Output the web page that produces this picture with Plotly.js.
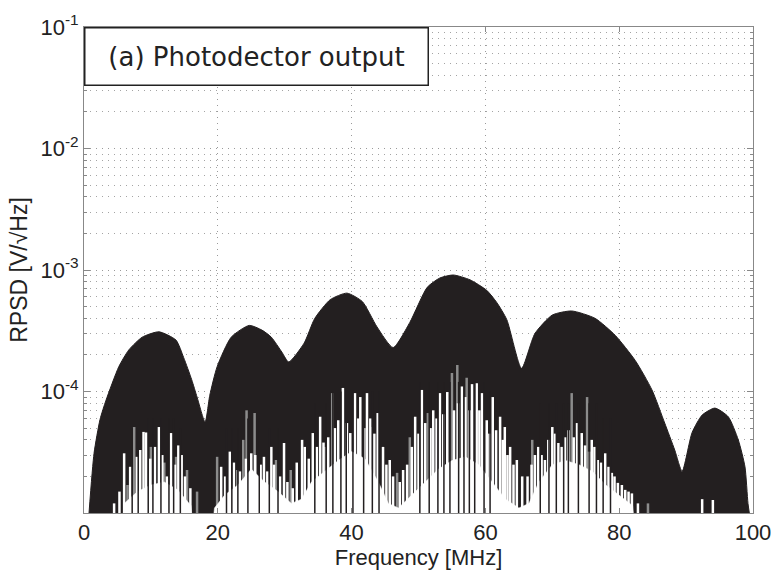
<!DOCTYPE html>
<html>
<head>
<meta charset="utf-8">
<script src="https://cdn.plot.ly/plotly-3.0.1.min.js"></script>
<style>html,body{margin:0;padding:0;background:#fff;}#chart{width:774px;height:570px;}</style>
</head>
<body>
<div id="chart"></div>
<script>
// Upper envelope of the spectrum (frequency in MHz, RPSD in V/sqrt(Hz))
const envF = [0.75, 1.5, 2.4, 3.3, 5.2, 6.7, 8.7, 11.2, 13.75, 14.9, 16.1, 16.9, 18.1, 18.8, 19.9, 22.0, 24.7, 26.6, 28.0, 29.6, 30.6, 32.9, 34.5, 36.8, 39.3, 41.6, 43.8, 46.2, 48.7, 51.3, 53.2, 55.2, 57.7, 60.2, 61.7, 63.2, 65.4, 67.4, 70.0, 72.9, 76.4, 79.4, 82.4, 84.9, 86.8, 88.3, 89.4, 90.9, 92.4, 94.3, 96.3, 97.8, 98.8, 99.25, 99.45];
const envV = [1.0e-5, 3.1e-5, 5.9e-5, 8.5e-5, 1.6e-4, 2.2e-4, 2.8e-4, 3.1e-4, 2.65e-4, 1.9e-4, 1.25e-4, 9.0e-5, 5.6e-5, 9.3e-5, 1.6e-4, 2.8e-4, 3.5e-4, 3.2e-4, 2.8e-4, 2.1e-4, 1.75e-4, 2.5e-4, 4.0e-4, 5.7e-4, 6.45e-4, 5.5e-4, 3.4e-4, 2.3e-4, 3.7e-4, 7.2e-4, 8.6e-4, 9.1e-4, 8.3e-4, 6.8e-4, 5.4e-4, 3.9e-4, 1.55e-4, 3.0e-4, 4.26e-4, 4.6e-4, 4.0e-4, 2.9e-4, 1.8e-4, 1.03e-4, 5.5e-5, 3.3e-5, 2.2e-5, 4.6e-5, 6.4e-5, 7.3e-5, 6.2e-5, 4.0e-5, 2.4e-5, 1.2e-5, 1.0e-5];

// Lower (white) noise floor between the spikes
const floorF = [4.5, 6, 8, 10, 12, 14, 16, 17.5, 19.5, 21, 23, 25, 27, 29, 31, 32.5, 34, 36, 38, 40, 42, 44, 45.5, 47, 49, 51, 53, 55, 57, 59, 61, 63, 65, 66.5, 68, 70, 72, 74, 76, 78, 80, 82, 84];
const floorV = [1e-6, 1.2e-5, 1.5e-5, 1.7e-5, 1.8e-5, 1.55e-5, 1.15e-5, 1e-6, 1.1e-5, 1.4e-5, 1.7e-5, 2.3e-5, 1.8e-5, 1.5e-5, 1.2e-5, 1.3e-5, 1.8e-5, 2.2e-5, 2.7e-5, 3.2e-5, 2.8e-5, 1.8e-5, 1.2e-5, 1.1e-5, 1.4e-5, 1.8e-5, 2.3e-5, 2.7e-5, 2.9e-5, 2.5e-5, 1.8e-5, 1.3e-5, 1.1e-5, 1.2e-5, 1.8e-5, 2.5e-5, 2.7e-5, 2.5e-5, 2.2e-5, 1.7e-5, 1.4e-5, 1.15e-5, 1e-6];

// White spikes (deep minima of the spectrum)
const whiteF = [4.5, 5.3, 6.0, 6.9, 7.9, 8.4, 8.9, 9.3, 9.9, 10.6, 11.2, 11.7, 12.4, 13.0, 13.6, 14.1, 14.6, 15.1, 15.9,
  20.5, 21.1, 21.8, 22.4, 23.3, 24.2, 25.0, 25.6, 26.4, 26.9, 27.4, 28.0, 28.4, 29.3, 29.9, 30.4, 31.2, 31.8, 32.6,
  33.0, 33.6, 34.2, 34.8, 35.3, 35.8, 36.5, 37.5, 38.0, 38.7, 39.3, 39.8, 40.5, 41.0, 41.3, 41.9, 42.3, 42.8, 43.4, 43.9, 44.7, 45.2, 45.7, 46.2, 47.2, 47.7, 48.3, 49.0, 49.5,
  50.0, 50.5, 51.0, 51.8, 52.2, 52.7, 53.2, 53.7, 54.3, 55.3, 55.9, 56.5, 57.0, 57.6, 58.0, 58.7, 59.1, 59.5, 60.2, 60.6, 61.1, 61.6, 62.2, 62.6, 62.9, 63.3, 63.7, 64.2, 64.7, 65.5,
  66.3, 66.9, 67.4, 67.9, 68.4, 68.9, 69.4, 70.0, 70.4, 70.9, 71.4, 71.9, 72.4, 73.2, 73.7, 74.4, 74.9, 75.5, 75.9, 76.3, 76.8, 77.3, 77.9, 78.4, 78.9, 79.3, 79.8, 80.4, 80.9, 81.4, 81.9, 82.8, 92.4, 94.0];
const whiteV = [1.2e-5, 1.5e-5, 3.1e-5, 2.4e-5, 2.9e-5, 3.3e-5, 4.65e-5, 4.6e-5, 2.8e-5, 3.5e-5, 5.1e-5, 3.0e-5, 2.0e-5, 4.55e-5, 2.5e-5, 3.6e-5, 3.0e-5, 2.0e-5, 1.6e-5,
  2.4e-5, 2.0e-5, 3.2e-5, 2.6e-5, 2.2e-5, 2.8e-5, 3.1e-5, 3.0e-5, 2.5e-5, 2.9e-5, 2.2e-5, 3.5e-5, 2.5e-5, 2.0e-5, 3.77e-5, 1.8e-5, 1.6e-5, 2.6e-5, 4.0e-5,
  3.5e-5, 2.8e-5, 4.55e-5, 3.5e-5, 6.2e-5, 3.8e-5, 4.2e-5, 5.0e-5, 5.8e-5, 1.07e-4, 5.5e-5, 4.55e-5, 9.7e-5, 6.0e-5, 9.0e-5, 5.0e-5, 9.7e-5, 6.0e-5, 4.5e-5, 6.65e-5, 3.5e-5, 2.5e-5, 2.73e-5, 2.0e-5, 1.8e-5, 2.26e-5, 2.5e-5, 3.5e-5, 6.2e-5,
  4.5e-5, 1.03e-4, 5.5e-5, 5.0e-5, 7.0e-5, 6.0e-5, 9.7e-5, 6.5e-5, 9.9e-5, 7.0e-5, 8.0e-5, 1.1e-4, 9.0e-5, 7.0e-5, 1.15e-4, 1.17e-4, 7.0e-5, 9.7e-5, 5.8e-5, 4.5e-5, 9.0e-5, 4.8e-5, 6.2e-5, 4.0e-5, 5.1e-5, 3.0e-5, 3.5e-5, 2.5e-5, 2.73e-5, 2.0e-5,
  2.0e-5, 2.5e-5, 3.0e-5, 3.5e-5, 3.0e-5, 2.73e-5, 4.0e-5, 5.1e-5, 4.5e-5, 3.77e-5, 3.5e-5, 4.2e-5, 4.8e-5, 4.2e-5, 5.5e-5, 4.55e-5, 3.6e-5, 3.2e-5, 4.0e-5, 3.5e-5, 2.73e-5, 2.6e-5, 3.1e-5, 2.4e-5, 2.14e-5, 2.0e-5, 1.77e-5, 1.7e-5, 1.55e-5, 1.5e-5, 1.45e-5, 1.2e-5, 1.3e-5, 1.28e-5];

// Gray spikes (partial minima)
const grayF = [6.5, 7.5, 10.0, 12.0, 13.75, 15.4, 16.9, 19.9, 22.9, 23.8, 24.3, 25.5, 28.7, 30.9, 36.0, 37.1, 43.0, 46.8, 48.7, 51.4, 55.0, 55.8, 57.2, 67.0, 72.9, 75.2, 84.3];
const grayV = [1.7e-5, 5.1e-5, 3.5e-5, 2.6e-5, 2.9e-5, 2.26e-5, 1.5e-5, 2.9e-5, 2.26e-5, 4.0e-5, 7.0e-5, 6.65e-5, 2.73e-5, 2.26e-5, 3.5e-5, 9.7e-5, 5.1e-5, 2.14e-5, 4.2e-5, 6.65e-5, 1.42e-4, 1.65e-4, 1.3e-4, 4.0e-5, 9.7e-5, 9.0e-5, 1.2e-5];

// Dark lines crossing the white floor
const darkF = [7.2, 8.1, 9.6, 10.3, 11.5, 12.7, 13.4, 14.4, 21.3, 22.1, 23.0, 24.5, 26.2, 27.7, 29.0, 34.5, 36.2, 37.2, 38.4, 39.2, 40.2, 41.8, 43.1, 44.1, 50.2, 51.6, 52.9, 53.8, 54.7, 56.0, 56.8, 57.6, 58.4, 59.8, 60.7, 68.2, 69.5, 70.6, 71.7, 72.4, 73.9, 75.5, 76.6, 77.6, 78.7];
const darkV = [5e-5, 5e-5, 6e-5, 6e-5, 6e-5, 6e-5, 6e-5, 5e-5, 5e-5, 5e-5, 5e-5, 6e-5, 6e-5, 5e-5, 5e-5, 8e-5, 8e-5, 1e-4, 1e-4, 1e-4, 1e-4, 1e-4, 1e-4, 1e-4, 1.2e-4, 1.2e-4, 1.2e-4, 1.2e-4, 1.2e-4, 1.2e-4, 1.2e-4, 1.2e-4, 1.2e-4, 1.2e-4, 1e-4, 8e-5, 8e-5, 8e-5, 8e-5, 8e-5, 8e-5, 8e-5, 8e-5, 6e-5, 6e-5];

// Axis ticks
const xTicks = [0, 20, 40, 60, 80, 100];
const yTicks = [1e-4, 1e-3, 1e-2, 1e-1];
const yTickText = ['10<sup>-4</sup>', '10<sup>-3</sup>', '10<sup>-2</sup>', '10<sup>-1</sup>'];

const BASE = 1e-6;
const INK = '#231f20';

function spikes(fs, vs) {
  const x = [], y = [];
  for (let i = 0; i < fs.length; i++) {
    x.push(fs[i], fs[i], null);
    y.push(BASE, vs[i], null);
  }
  return {x, y};
}

const minorVals = [];
for (let e = -5; e < -1; e++) {
  for (let m = 2; m <= 9; m++) minorVals.push(m * Math.pow(10, e));
}

const w = spikes(whiteF, whiteV);
const g = spikes(grayF, grayV);
const d = spikes(darkF, darkV);

const traces = [
  {x: envF, y: envV, type: 'scatter', mode: 'lines', fill: 'tozeroy', fillcolor: INK,
   line: {color: INK, width: 1, shape: 'spline', smoothing: 0.6}, hoverinfo: 'skip', showlegend: false},
  {x: g.x, y: g.y, type: 'scatter', mode: 'lines', line: {color: '#8c8c8c', width: 2.5},
   connectgaps: false, hoverinfo: 'skip', showlegend: false},
  {x: floorF, y: floorV, type: 'scatter', mode: 'lines', fill: 'tozeroy', fillcolor: '#ffffff',
   line: {color: '#ffffff', width: 0.5}, hoverinfo: 'skip', showlegend: false},
  {x: w.x, y: w.y, type: 'scatter', mode: 'lines', line: {color: '#ffffff', width: 2.5},
   connectgaps: false, hoverinfo: 'skip', showlegend: false},
  {x: d.x, y: d.y, type: 'scatter', mode: 'lines', line: {color: INK, width: 1.5},
   connectgaps: false, hoverinfo: 'skip', showlegend: false}
];

const layout = {
  width: 774, height: 570,
  margin: {l: 84, r: 21, t: 27, b: 57},
  paper_bgcolor: '#ffffff', plot_bgcolor: '#ffffff',
  font: {family: 'Liberation Sans, Arial, sans-serif', color: '#222', size: 22},
  showlegend: false,
  xaxis: {
    range: [0, 100], tickvals: xTicks, ticktext: xTicks.map(String),
    ticks: 'inside', ticklen: 5, tickcolor: '#888', tickwidth: 1,
    showline: true, linecolor: '#888', linewidth: 1, mirror: 'ticks',
    showgrid: true, gridcolor: '#9a9a9a', griddash: '1px,5px', gridwidth: 1,
    zeroline: false, tickfont: {size: 22},
    title: {text: 'Frequency [MHz]', font: {size: 22}, standoff: 0}
  },
  yaxis: {
    type: 'log', range: [-5, -1], tickmode: 'array', tickvals: yTicks, ticktext: yTickText,
    ticks: 'inside', ticklen: 6, tickcolor: '#888', tickwidth: 1,
    showline: true, linecolor: '#888', linewidth: 1, mirror: 'ticks',
    showgrid: true, gridcolor: '#9a9a9a', griddash: '1px,5px', gridwidth: 1,
    zeroline: false, tickfont: {size: 22},
    minor: {tickmode: 'array', tickvals: minorVals, ticks: 'inside', ticklen: 3, tickcolor: '#888',
            showgrid: true, gridcolor: '#a4a4a4', griddash: '1px,5px', gridwidth: 1},
    title: {text: 'RPSD [V/√Hz]', font: {size: 23}, standoff: 6}
  },
  annotations: [{
    xref: 'paper', yref: 'paper', x: 0, y: 1, xanchor: 'left', yanchor: 'top',
    text: '(a) Photodector output', showarrow: false,
    font: {family: 'DejaVu Sans, Verdana, sans-serif', size: 26, color: '#222'},
    bgcolor: '#ffffff', bordercolor: '#222', borderwidth: 1.5,
    width: 340, height: 54, align: 'center', valign: 'middle'
  }]
};

Plotly.newPlot('chart', traces, layout, {displayModeBar: false, staticPlot: true});
</script>
</body>
</html>
